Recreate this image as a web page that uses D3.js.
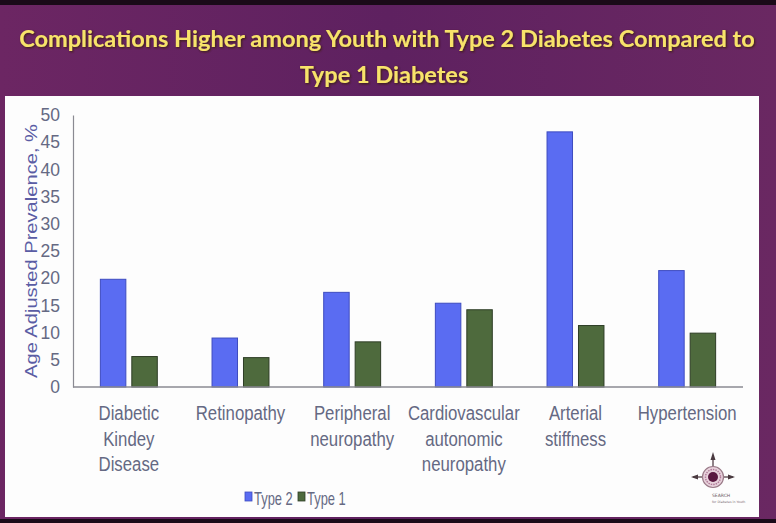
<!DOCTYPE html>
<html>
<head>
<meta charset="utf-8">
<script src="https://cdn.jsdelivr.net/npm/d3@7"></script>
<style>
  html, body { margin: 0; padding: 0; background: #000; }
  svg { display: block; }
</style>
</head>
<body>
<svg id="chart" width="776" height="523"></svg>
<script>
// Complications among youth by diabetes type (age adjusted prevalence, %)
const categories = [
  ["Diabetic", "Kindey", "Disease"],
  ["Retinopathy"],
  ["Peripheral", "neuropathy"],
  ["Cardiovascular", "autonomic", "neuropathy"],
  ["Arterial", "stiffness"],
  ["Hypertension"]
];
const seriesNames = ["Type 2", "Type 1"];
const type2Values = [19.8, 9.0, 17.4, 15.4, 46.9, 21.4];
const type1Values = [5.6, 5.4, 8.3, 14.2, 11.3, 9.9];
const yTicks = [0, 5, 10, 15, 20, 25, 30, 35, 40, 45, 50];

const colors = { "Type 2": "#5a6cf2", "Type 1": "#4e6a3d" };
const strokes = { "Type 2": "#3e4cc0", "Type 1": "#2e3d26" };
const sans = "'Liberation Sans', Arial, sans-serif";

// squeeze a text horizontally to imitate a narrow typeface
function condense(sel, factor) {
  sel.each(function () {
    const w = this.getComputedTextLength();
    d3.select(this).attr("textLength", w * factor).attr("lengthAdjust", "spacingAndGlyphs");
  });
}

const svg = d3.select("#chart");
const W = 776, H = 523;

// slide background
const defs = svg.append("defs");
const bg = defs.append("linearGradient").attr("id", "bg").attr("x1", 0).attr("y1", 0).attr("x2", 1).attr("y2", 0);
bg.append("stop").attr("offset", "0%").attr("stop-color", "#6c2663");
bg.append("stop").attr("offset", "50%").attr("stop-color", "#5e2160");
bg.append("stop").attr("offset", "100%").attr("stop-color", "#6a2862");
const glow = defs.append("filter").attr("id", "glow").attr("x", "-5%").attr("y", "-30%").attr("width", "110%").attr("height", "160%");
glow.append("feDropShadow").attr("dx", 1).attr("dy", 1).attr("stdDeviation", 1.2).attr("flood-color", "#3a1a08").attr("flood-opacity", 0.95);

svg.append("rect").attr("width", W).attr("height", H).attr("fill", "url(#bg)");
svg.append("rect").attr("width", W).attr("height", 5).attr("fill", "#1a0a18");
svg.append("rect").attr("y", 519).attr("width", W).attr("height", 4).attr("fill", "#1a0a18");

// title, sized so that the first line spans the slide
const title = svg.append("g").attr("filter", "url(#glow)")
  .attr("font-family", "Lato, 'Open Sans', sans-serif")
  .attr("font-weight", "bold")
  .attr("fill", "#f8e36a")
  .attr("text-anchor", "middle");
const t1 = title.append("text").attr("x", 387).attr("y", 47).attr("font-size", 25)
  .text("Complications Higher among Youth with Type 2 Diabetes Compared to");
const fs = 25 * 736 / t1.node().getComputedTextLength();
t1.attr("font-size", fs);
title.append("text").attr("x", 384).attr("y", 83).attr("font-size", fs)
  .text("Type 1 Diabetes");

// white chart panel
svg.append("rect").attr("x", 5).attr("y", 96).attr("width", 754).attr("height", 421).attr("fill", "#fdfdfd");

// scales
const x0 = d3.scaleBand().domain(d3.range(categories.length)).range([73, 743]).padding(0);
const x1 = d3.scaleBand().domain(seriesNames).range([0, x0.bandwidth()]).paddingInner(0.19).paddingOuter(0.87);
const y = d3.scaleLinear().domain([0, 50]).range([387, 115]);

// y axis
const yAxis = d3.axisLeft(y).tickValues(yTicks).tickSize(0).tickPadding(13);
const gy = svg.append("g").attr("transform", "translate(73,0)").call(yAxis);
gy.select(".domain").attr("stroke", "#8a8a92").attr("stroke-width", 1.2);
gy.selectAll("text").attr("font-family", sans).attr("font-size", 17.5).attr("fill", "#656983");

const yTitle = svg.append("text")
  .attr("transform", "translate(37,251) rotate(-90)")
  .attr("text-anchor", "middle")
  .attr("font-family", sans)
  .attr("font-size", 17)
  .attr("fill", "#5a5ca4")
  .text("Age Adjusted Prevalence, %");
yTitle.attr("textLength", 254).attr("lengthAdjust", "spacingAndGlyphs");

// bars
const rows = categories.map((c, i) => ({ i, values: [
  { key: "Type 2", v: type2Values[i] },
  { key: "Type 1", v: type1Values[i] }
]}));
const groups = svg.append("g").selectAll("g").data(rows).join("g")
  .attr("transform", d => `translate(${x0(d.i)},0)`);
groups.selectAll("rect").data(d => d.values).join("rect")
  .attr("x", d => x1(d.key))
  .attr("width", x1.bandwidth())
  .attr("y", d => y(d.v))
  .attr("height", d => y(0) - y(d.v))
  .attr("fill", d => colors[d.key])
  .attr("stroke", d => strokes[d.key])
  .attr("stroke-width", 1);

// x baseline
svg.append("line").attr("x1", 73).attr("x2", 743).attr("y1", y(0)).attr("y2", y(0))
  .attr("stroke", "#8a8a92").attr("stroke-width", 1.5);

// category labels
const labels = svg.append("g").attr("font-family", sans).attr("font-size", 19.5)
  .attr("fill", "#656983").attr("text-anchor", "middle");
categories.forEach((lines, i) => {
  lines.forEach((ln, k) => {
    labels.append("text")
      .attr("x", x0(i) + x0.bandwidth() / 2)
      .attr("y", 420 + k * 25.5)
      .text(ln);
  });
});
labels.selectAll("text").call(condense, 0.86);

// legend
const legend = svg.append("g").attr("font-family", sans).attr("font-size", 19).attr("fill", "#656983");
const legendX = [245, 298];
seriesNames.forEach((s, i) => {
  legend.append("rect").attr("x", legendX[i]).attr("y", 492).attr("width", 7).attr("height", 9)
    .attr("fill", colors[s]).attr("stroke", strokes[s]).attr("stroke-width", 0.8);
  legend.append("text").attr("x", legendX[i] + 9).attr("y", 505).text(s);
});
legend.selectAll("text").call(condense, 0.68);

// emblem in the lower right corner
const logo = svg.append("g").attr("transform", "translate(713,477)");
logo.append("line").attr("x1", 0).attr("x2", 0).attr("y1", -22).attr("y2", -9).attr("stroke", "#6b5a60").attr("stroke-width", 1.5);
logo.append("path").attr("d", "M0,-25 L-2.5,-17 L2.5,-17 Z").attr("fill", "#4a3a40");
logo.append("line").attr("x1", -20).attr("x2", 20).attr("y1", 0).attr("y2", 0).attr("stroke", "#6b5a60").attr("stroke-width", 1.5);
logo.append("path").attr("d", "M-22,0 L-15,-2.5 L-15,2.5 Z M22,0 L15,-2.5 L15,2.5 Z").attr("fill", "#4a3a40");
logo.append("circle").attr("r", 10.5).attr("fill", "#e8d2dc").attr("stroke", "#9a7a88").attr("stroke-width", 1.2);
logo.append("circle").attr("r", 7.5).attr("fill", "none").attr("stroke", "#b07a98").attr("stroke-width", 1.5).attr("stroke-dasharray", "1.5,1");
logo.append("circle").attr("r", 5).attr("fill", "#5a1840");
logo.append("text").attr("x", -1).attr("y", 20).attr("font-family", "'DejaVu Sans', sans-serif")
  .attr("font-size", 4.5).attr("fill", "#6a5a60").text("SEARCH");
logo.append("text").attr("x", -1).attr("y", 26).attr("font-family", "'DejaVu Sans', sans-serif")
  .attr("font-size", 3.2).attr("fill", "#7a6a70").text("for Diabetes in Youth");
</script>
</body>
</html>
